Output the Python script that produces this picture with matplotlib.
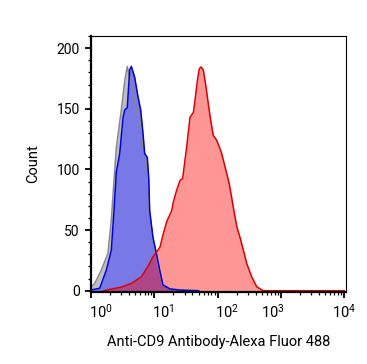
import numpy as np
import matplotlib
matplotlib.use("Agg")
import matplotlib.pyplot as plt
import matplotlib.transforms as mtransforms
from matplotlib.ticker import LogLocator, MultipleLocator

plt.rcParams['font.family'] = ['Roboto', 'DejaVu Sans']

# histogram traces: log10(intensity) and counts
gray_log = [0.0, 0.058, 0.163, 0.268, 0.32, 0.374, 0.4, 0.479, 0.532, 0.573, 0.611, 0.663,
            0.716, 0.769, 0.821, 0.874, 0.9, 0.92, 0.97, 1.02, 1.075, 1.13, 1.25, 1.4, 1.56, 1.7]
gray_cnt = [3, 6, 17, 31, 58, 99, 118, 149, 173, 185, 176, 165,
            149, 143, 118, 108, 93, 66, 44, 31, 17, 5, 1.5, 0.6, 0.2, 0]

blue_log = [0.0, 0.137, 0.242, 0.321, 0.363, 0.4, 0.453, 0.506, 0.532, 0.573, 0.611, 0.637,
            0.69, 0.742, 0.785, 0.821, 0.848, 0.889, 0.912, 0.927, 0.979, 1.032, 1.085,
            1.137, 1.25, 1.41, 1.56, 1.7]
blue_cnt = [0.6, 2, 17, 33.5, 66, 98, 113, 143, 149, 151, 182, 185,
            176, 160, 149, 130, 113, 110, 93, 66, 44, 31, 17,
            4.7, 1.4, 0.5, 0.2, 0]

red_log = [0.2, 0.479, 0.637, 0.795, 0.9, 0.979, 1.058, 1.09, 1.142, 1.196, 1.275, 1.3,
           1.354, 1.406, 1.448, 1.511, 1.564, 1.617, 1.643, 1.68, 1.711, 1.738, 1.774,
           1.817, 1.853, 1.891, 1.932, 1.986, 2.027, 2.06, 2.133, 2.185, 2.248, 2.302,
           2.354, 2.407, 2.46, 2.539, 2.618, 2.72, 4.0]
red_cnt = [0, 3, 6, 11.5, 20, 28, 33.5, 36, 47, 57, 66, 73,
           83, 91, 92.5, 118.5, 143, 147, 157, 173, 183, 184.5, 182,
           168, 154, 140.5, 128, 124, 118.5, 114, 99, 88, 69, 53,
           44, 33.5, 22.5, 11.5, 3.3, 0, 0]

fig = plt.figure(figsize=(3.67, 3.64), dpi=100)
ax = fig.add_axes([0.248, 0.198, 0.695, 0.703])

series = [
    (gray_log, gray_cnt, '#bebebe', 1.0, '#888888'),
    (blue_log, blue_cnt, '#7878e6', 1.0, '#0000dd'),
    (red_log, red_cnt, '#ff0000', 0.41, '#dd0000'),
]
for lg, cnt, fc, a, lc in series:
    x = 10 ** np.array(lg)
    ax.fill_between(x, 0, cnt, color=fc, alpha=a, lw=0)
    ax.plot(x, cnt, color=lc, lw=1.1)

ax.set_xscale('log')
ax.set_xlim(1, 10 ** 4.03)
ax.set_ylim(-1, 210)
ax.xaxis.set_major_locator(LogLocator(base=10, numticks=10))
ax.xaxis.set_minor_locator(LogLocator(base=10, subs=np.arange(2, 10), numticks=20))
ax.yaxis.set_major_locator(MultipleLocator(50))
ax.yaxis.set_minor_locator(MultipleLocator(10))

ax.tick_params(which='major', direction='out', length=4.5, width=1.3, labelsize=10, colors='black')
ax.tick_params(axis='x', which='major', labelsize=10.5)
ax.tick_params(which='minor', direction='out', length=2.5, width=0.9)

for side in ['left', 'bottom']:
    ax.spines[side].set_linewidth(1.6)
for side in ['top', 'right']:
    ax.spines[side].set_linewidth(0.8)

ax.set_xlabel('Anti-CD9 Antibody-Alexa Fluor 488', fontsize=10.5, labelpad=10)
ax.set_ylabel('Count', fontsize=10.5, labelpad=12)

# FlowJo-style labels sit a little right of their ticks
fig.canvas.draw()
shifts = [10, 10, 9, 9, -8]
for lab, dx in zip(ax.get_xticklabels(), shifts):
    off = mtransforms.ScaledTranslation(dx / 100, 0, fig.dpi_scale_trans)
    lab.set_transform(lab.get_transform() + off)

fig.savefig('out.png', dpi=100)
